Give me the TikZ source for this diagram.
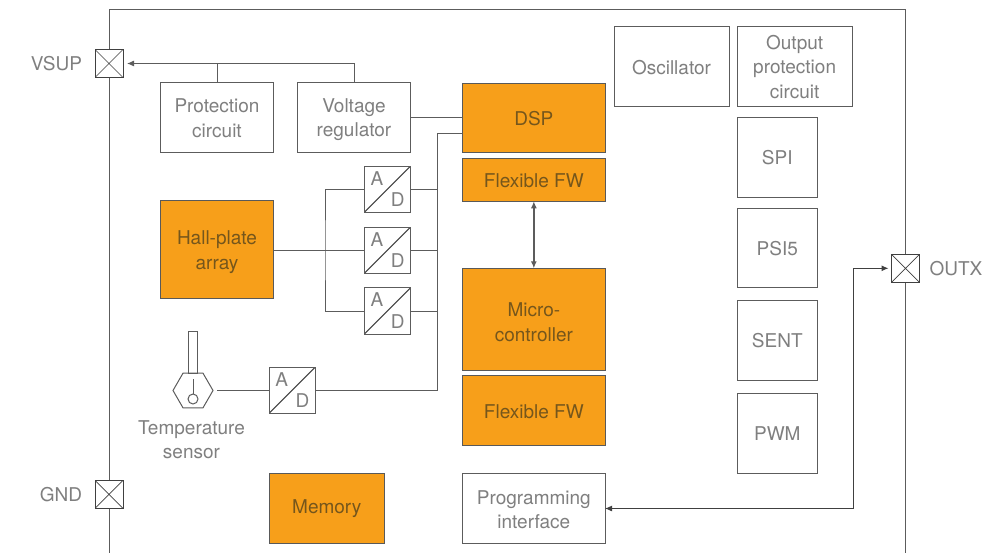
\documentclass[tikz,border=0pt]{standalone}
\usepackage{fontspec}
\setmainfont{TeX Gyre Heros}
\usetikzlibrary{shapes.geometric,arrows.meta}
\definecolor{hallorange}{HTML}{F79F1A}
\definecolor{edgegray}{HTML}{5C5C5C}
\definecolor{labelgray}{HTML}{7F7F7F}
\definecolor{labelbrown}{HTML}{75561C}
\newcommand{\dropby}[1]{\rule{0pt}{\dimexpr13.8pt+2\dimexpr#1\relax\relax}}

\begin{document}
\begin{tikzpicture}[x=1pt,y=-1pt,line width=1pt,
    wire/.style={edgegray,line width=1pt},
    arr/.style={wire,-{Latex[length=7pt,width=6pt]}},
    base/.style={draw=edgegray,anchor=north west,align=center,inner sep=0pt,outer sep=0pt,
      text=labelgray,font=\fontsize{19}{24.6}\selectfont},
    block/.style={base,fill=white},
    core/.style={base,draw=black!65,fill=hallorange,text=labelbrown},
    pin/.style={draw=black!75,fill=white,minimum size=28pt,inner sep=0pt,outer sep=0pt,
      path picture={\draw[black!75,line width=.7pt]
        (path picture bounding box.south west) -- (path picture bounding box.north east)
        (path picture bounding box.north west) -- (path picture bounding box.south east);}},
    pinname/.style={text=labelgray,font=\fontsize{19}{24.6}\selectfont,inner sep=0pt},
    adc/.style={base,minimum size=46pt,
      path picture={\draw[black!75]
        (path picture bounding box.south west) -- (path picture bounding box.north east);}},
  ]
  \useasboundingbox (0,0) rectangle (1001,553);
  \draw[edgegray] (109,553) -- (109,9.3) -- (905.5,9.3) -- (905.5,553);

  % pins
  \node[pin] (vsup) at (109,63.5) {};
  \node[pin] (gnd) at (109,494.3) {};
  \node[pin] (outx) at (905.5,268.3) {};
  \node[pinname,anchor=east] (vsupname) at (82.5,64) {VSUP};
  \node[pinname,anchor=east] (gndname) at (82.5,494.5) {GND};
  \node[pinname,anchor=west] (outxname) at (929,268.5) {OUTX};

  % blocks
  \node[block,minimum width=113pt,minimum height=69.5pt] (prot) at (160.5,83) {\dropby{.5pt}Protection\\circuit};
  \node[block,minimum width=113pt,minimum height=69.5pt] (vreg) at (297.5,83) {\dropby{2pt}Voltage\\regulator};
  \node[core,minimum width=142.3pt,minimum height=69.4pt] (dsp) at (462.7,83.3) {\dropby{.5pt}DSP};
  \node[core,minimum width=142.3pt,minimum height=43pt] (fwa) at (462.7,158.3) {\dropby{.5pt}Flexible FW};
  \node[core,minimum width=142.3pt,minimum height=102.4pt] (mcu) at (462.7,268.3) {\dropby{3pt}Micro-\\controller};
  \node[core,minimum width=142.3pt,minimum height=69.6pt] (fwb) at (462.7,375.7) {\dropby{1pt}Flexible FW};
  \node[block,minimum width=142.3pt,minimum height=69.6pt] (prog) at (462.7,473.7) {\dropby{1.2pt}Programming\\interface};
  \node[core,minimum width=113pt,minimum height=98pt] (hall) at (160.5,201) {\dropby{2pt}Hall-plate\\array};
  \node[core,minimum width=115.5pt,minimum height=69.5pt] (mem) at (269,473.5) {Memory};

  \node[block,minimum width=115pt,minimum height=79.7pt] (osc) at (614,27) {\dropby{.7pt}Oscillator};
  \node[block,minimum width=114.7pt,minimum height=79.7pt] (outp) at (737.3,27) {Output\\protection\\circuit};
  \node[block,minimum width=80pt,minimum height=80pt] (spi) at (737.3,117.3) {SPI};
  \node[block,minimum width=80pt,minimum height=79.7pt] (psi) at (737.3,208.3) {PSI5};
  \node[block,minimum width=80pt,minimum height=79.7pt] (sent) at (737.3,301) {SENT};
  \node[block,minimum width=80pt,minimum height=79.7pt] (pwm) at (737.3,393.7) {PWM};

  % converters
  \node[adc] (ada) at (364.3,166.3) {};
  \node[adc] (adb) at (364.3,227.3) {};
  \node[adc] (adc) at (364.3,288) {};
  \node[adc] (add) at (269,367.3) {};
  \foreach \conv in {ada,adb,adc,add} {
    \node[pinname] (\conv A) at ([xshift=12.7pt,yshift=-12pt]\conv.north west) {A};
    \node[pinname] (\conv D) at ([xshift=-12.6pt,yshift=12.4pt]\conv.south east) {D};
  }

  % temperature sensor
  \node[regular polygon,regular polygon sides=6,draw=edgegray,minimum size=40pt,inner sep=0pt,outer sep=0pt] (hex) at (193,390.5) {};
  \node[draw=edgegray,anchor=south,minimum width=8.5pt,minimum height=41.5pt,inner sep=0pt,outer sep=0pt] (stem) at (hex.north) {};
  \node[circle,draw=edgegray,minimum size=10pt,inner sep=0pt,outer sep=0pt] (bulb) at (193,399) {};
  \draw[edgegray] (bulb.north) -- ++(0,-15);
  \node[pinname,align=center,anchor=north] (tempname) at (191.5,420) {Temperature\\sensor};

  % supply
  \coordinate (tap) at (prot.north |- vsup);
  \draw[arr,shorten >=4pt] (vreg.north) |- (vsup.east);
  \draw[wire] (prot.north) -- (tap);

  % hall plates to converters
  \coordinate (fork) at (325,250);
  \draw[wire] (hall.east |- adb.west) -- (adb.west);
  \draw[wire] (ada.west) -| (fork) |- (adc.west);

  % bus to dsp
  \coordinate (bus) at (437,133.3);
  \draw[wire] (vreg.east |- dsp.west) -- (dsp.west);
  \draw[wire] (dsp.west |- bus) -- (bus) |- (add.east);
  \draw[wire] (ada.east) -- (ada.east -| bus);
  \draw[wire] (adb.east) -- (adb.east -| bus);
  \draw[wire] (adc.east) -- (adc.east -| bus);
  \draw[wire,shorten <=4pt] (hex.east |- add.west) -- (add.west);

  % fw link and output
  \draw[wire,line width=1.3pt,{Latex[length=7pt,width=6pt]}-{Latex[length=7pt,width=6pt]}] (fwa.south) -- (mcu.north);
  \coordinate (turn) at (853.7,268.3);
  \draw[arr,black!75,shorten >=3pt] (turn) -- (outx.west);
  \draw[arr,black!75] (turn) |- (prog.east);
\end{tikzpicture}
\end{document}
